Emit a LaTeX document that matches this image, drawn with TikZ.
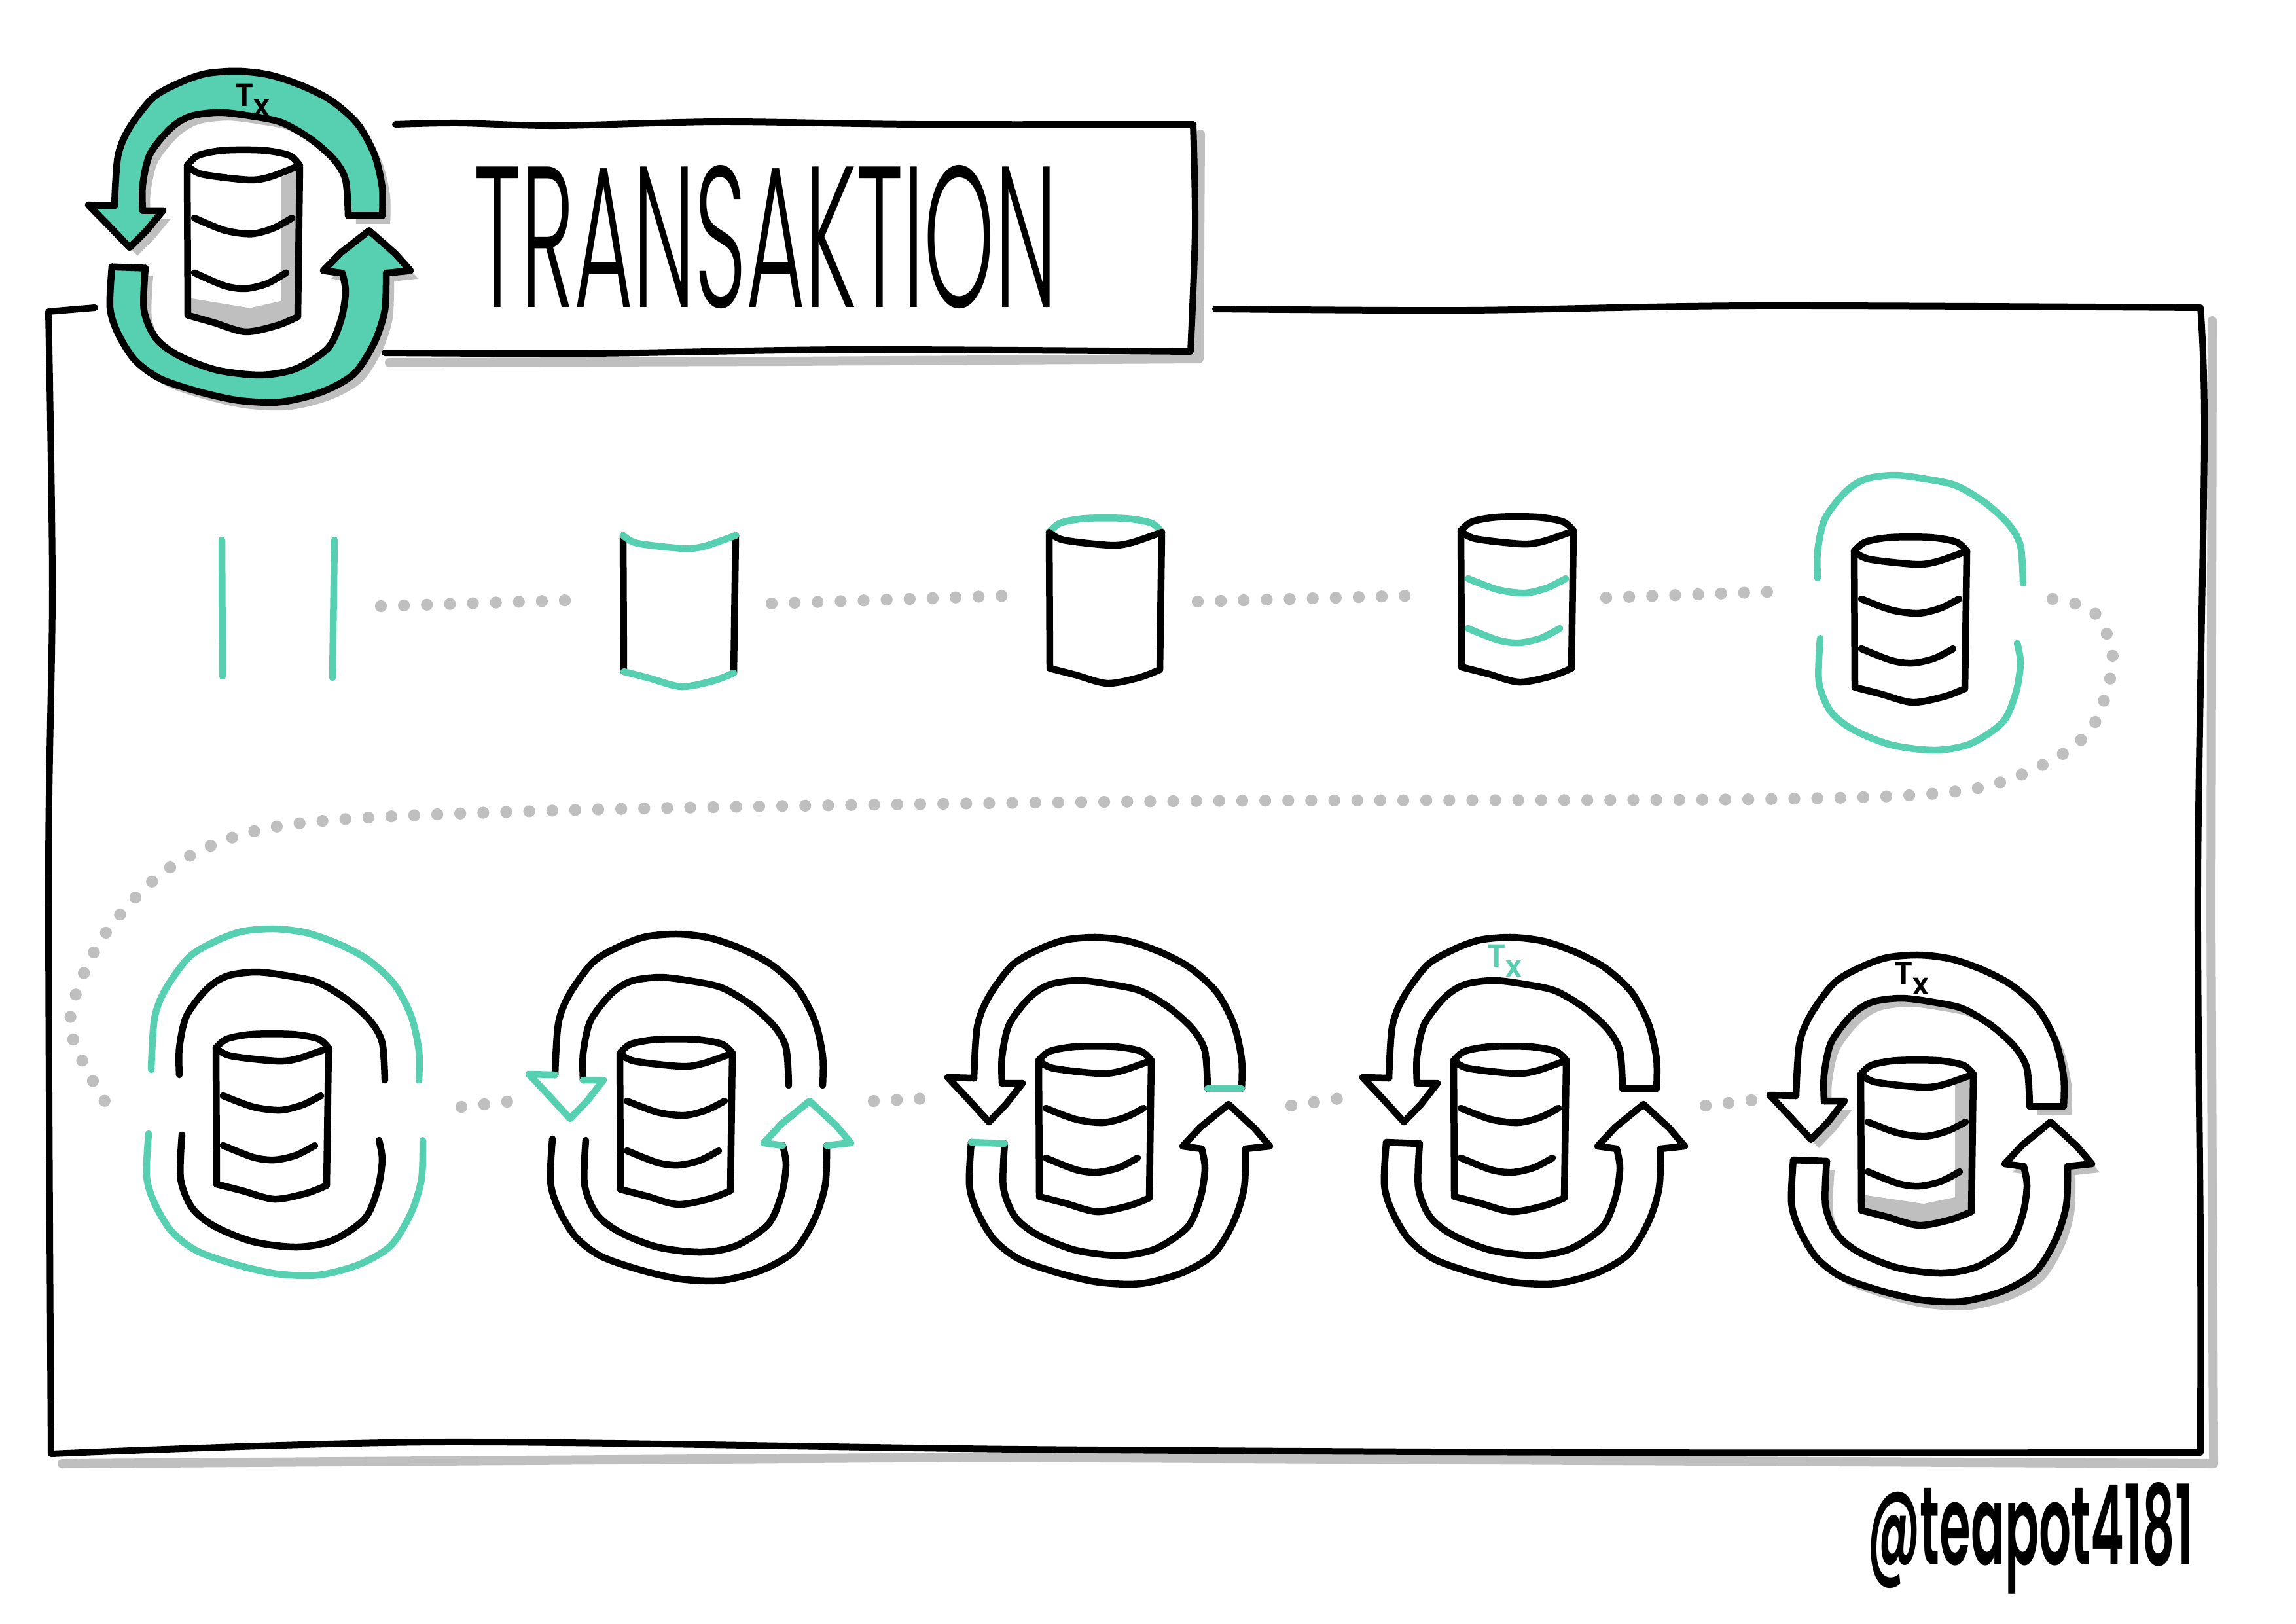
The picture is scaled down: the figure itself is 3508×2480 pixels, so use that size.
\documentclass[tikz,border=0pt]{standalone}
\usepackage{fontspec}
\setmainfont{Poppins}
\newfontfamily\titlefont{Poppins Light}
\newfontfamily\handfont{Poppins SemiBold}
\definecolor{txgreen}{HTML}{57CFB1}
\definecolor{shadowgrey}{HTML}{BFBFBF}
\newcommand{\txmark}{T\raisebox{-.3em}{\fontsize{13}{13}\selectfont x}}
% ring pieces, relative to the centre of the cylinder
\newcommand{\uparcouter}{plot[smooth] coordinates {(224,-53) (224,-98) (212,-151) (186,-200) (146,-237) (101,-261) (52,-278) (3,-284) (-46,-280) (-87,-265) (-127,-241) (-163,-192) (-180,-147) (-185,-69)}}
\newcommand{\upheadline}{-- (-225,-70) -- (-194,-37) -- (-162,-2) -- (-136,-29) -- (-111,-61) -- (-142,-61)}
\newcommand{\uparcinner}{-- plot[smooth] coordinates {(-142,-61) (-142,-102) (-131,-151) (-100,-192) (-69,-212) (-24,-218) (25,-212) (70,-202) (114,-176) (150,-143) (168,-110) (172,-53)}}
\newcommand{\lowarcinner}{plot[smooth] coordinates {(-138,31) (-140,98) (-122,143) (-87,171) (-29,194) (38,202) (92,192) (141,159) (161,114) (168,69) (163,39)}}
\newcommand{\lowheadline}{-- (134,35) -- (161,6) -- (204,-29) -- (244,8) -- (267,35) -- (230,39)}
\newcommand{\lowarcouter}{-- plot[smooth] coordinates {(230,39) (228,98) (212,150) (181,200) (132,229) (70,245) (7,243) (-55,229) (-115,208) (-154,178) (-180,135) (-192,94) (-189,29)}}
\tikzset{
  inkline/.style={line width=10.5*0.2845pt,line cap=round,line join=round},
  frameline/.style={inkline,line width=10*0.2845pt,black},
  shadowline/.style={inkline,line width=14*0.2845pt,shadowgrey},
  dotline/.style={line width=5.2pt,line cap=round,shadowgrey,dash pattern=on 0pt off 10pt},
  txlabel/.style={font=\handfont\fontsize{14}{14}\selectfont,inner sep=0pt},
  pics/dbcyl/.style n args={5}{code={
    \path[inkline,draw=#1] (-86,-102) -- (-85,106);
    \path[inkline,draw=#1] (86,-102) -- (83,108);
    \path[inkline,draw=#2] plot[smooth] coordinates {(-86,-102) (-69,-116) (-30,-123) (30,-123) (70,-116) (86,-102)};
    \path[inkline,draw=#3] plot[smooth] coordinates {(-86,-102) (-64,-90) (7,-82) (40,-86) (86,-102)};
    \path[inkline,draw=#4] plot[smooth] coordinates {(-85,106) (-46,116) (3,129) (52,120) (83,108)};
    \path[inkline,draw=#5] plot[smooth] coordinates {(-75,-29) (-29,-12) (12,-7) (46,-15) (74,-29)};
    \path[inkline,draw=#5] plot[smooth] coordinates {(-75,47) (-29,65) (3,69) (36,62) (65,47)};
  }},
  pics/dbshade/.style={code={
    \fill[shadowgrey] (58,-86) -- (84,-96) -- (81,108) -- (3,129) -- (-85,106) -- (-84,82) -- (10,96) -- (58,86) -- cycle;
  }},
  pics/ringarrows/.style n args={5}{code={
    \path[fill=#5] \uparcouter \upheadline \uparcinner -- cycle;
    \path[fill=#5] \lowarcinner \lowheadline \lowarcouter -- cycle;
    \path[inkline,draw=#1] \uparcouter;
    \path[inkline,draw=#1] (230,39) \lowarcouter;
    \path[inkline,draw=#2] (-142,-61) \uparcinner;
    \path[inkline,draw=#2] \lowarcinner;
    \path[inkline,draw=#3] (-185,-69) \upheadline;
    \path[inkline,draw=#3] (163,39) \lowheadline;
    \path[inkline,draw=#4] (172,-53) -- (224,-53);
    \path[inkline,draw=#4] (-189,29) -- (-138,31);
  }},
  pics/ringshadow/.style={code={
    \fill[shadowgrey,shift={(12,13)}] \uparcouter \upheadline \uparcinner -- cycle;
    \fill[shadowgrey,shift={(12,13)}] \lowarcinner \lowheadline \lowarcouter -- cycle;
  }},
}

\begin{document}
\begin{tikzpicture}[x=0.1mm,y=-0.1mm]
    \useasboundingbox (0,0) rectangle (3508,2480);
    \fill[white] (0,0) rectangle (3508,2480);

    % frame and title box
    \draw[shadowline] (3380,490) -- (3378,1400) -- (3382,2236) -- (1500,2226) -- (95,2236);
    \draw[shadowline] (1834,205) -- (1832,548) -- (1200,552) -- (595,554);
    \draw[frameline] plot[smooth] coordinates {(145,470) (74,476)} -- plot[smooth] coordinates {(74,476) (80,900) (74,1340) (78,2221)} -- plot[smooth] coordinates {(78,2221) (670,2203) (1560,2214) (2460,2219) (3362,2219)} -- plot[smooth] coordinates {(3362,2219) (3362,1900) (3358,1340) (3368,670) (3362,470)} -- plot[smooth] coordinates {(3362,470) (2680,467) (2240,474) (1857,472)};
    \draw[frameline] plot[smooth] coordinates {(604,190) (700,188) (850,192) (1100,186) (1400,190) (1823,190)} -- plot[smooth] coordinates {(1823,190) (1826,350) (1819,537)} -- plot[smooth] coordinates {(1819,537) (1300,534) (900,540) (588,539)};

    % title icon
    \pic (ringhead) at (360,380) [yscale=.955] {ringshadow};
    \pic (ringicon) at (360,380) [yscale=.955] {ringarrows={black}{black}{black}{black}{txgreen}};
    \pic (dbheadshade) at (372,365) [yscale=1.1] {dbshade};
    \pic (dbhead) at (372,365) [yscale=1.1] {dbcyl={black}{black}{black}{black}{black}};
    \node[txlabel] (txhead) at (386,153) {\txmark};

    \node[inner sep=0pt] (title) at (1170,362) {\resizebox{89mm}{21.7mm}{\titlefont TRANSAKTION}};

    % first row
    \pic (db1) at (425,927) {dbcyl={txgreen}{none}{none}{none}{none}};
    \pic (db2) at (1038,920) {dbcyl={black}{none}{txgreen}{txgreen}{none}};
    \pic (db3) at (1689,915) {dbcyl={black}{txgreen}{black}{black}{none}};
    \pic (db4) at (2318,913) {dbcyl={black}{black}{black}{black}{txgreen}};
    \pic (db5) at (2919,944) {dbcyl={black}{black}{black}{black}{black}};
    \pic (ring5) at (2919,944) {ringarrows={none}{txgreen}{none}{none}{none}};

    % second row
    \pic (db6) at (416,1703) {dbcyl={black}{black}{black}{black}{black}};
    \pic (ring6) at (416,1703) {ringarrows={txgreen}{black}{none}{none}{none}};
    \pic (db7) at (1033,1711) {dbcyl={black}{black}{black}{black}{black}};
    \pic (ring7) at (1033,1711) {ringarrows={black}{black}{txgreen}{none}{none}};
    \pic (db8) at (1673,1722) {dbcyl={black}{black}{black}{black}{black}};
    \pic (ring8) at (1673,1716) {ringarrows={black}{black}{black}{txgreen}{none}};
    \pic (db9) at (2307,1722) {dbcyl={black}{black}{black}{black}{black}};
    \pic (ring9) at (2307,1716) {ringarrows={black}{black}{black}{black}{none}};
    \node[txlabel,txgreen] (tx9) at (2299,1468) {\txmark};
    \pic (ringback10) at (2929,1743) {ringshadow};
    \pic (ring10) at (2929,1743) {ringarrows={black}{black}{black}{black}{white}};
    \pic (dbshade10) at (2929,1743) {dbshade};
    \pic (db10) at (2929,1743) {dbcyl={black}{black}{black}{black}{black}};
    \node[txlabel] (tx10) at (2921,1495) {\txmark};

    % dotted links
    \coordinate (link1a) at (582,926);
    \coordinate (link1b) at (868,917);
    \coordinate (link2a) at (1179,922);
    \coordinate (link2b) at (1539,910);
    \coordinate (link3a) at (1830,919);
    \coordinate (link3b) at (2154,910);
    \coordinate (link4a) at (2454,913);
    \coordinate (link4b) at (2707,904);
    \coordinate (link6a) at (705,1691);
    \coordinate (link6b) at (783,1682);
    \coordinate (link7a) at (1335,1682);
    \coordinate (link7b) at (1416,1678);
    \coordinate (link8a) at (1973,1689);
    \coordinate (link8b) at (2047,1678);
    \coordinate (link9a) at (2606,1689);
    \coordinate (link9b) at (2684,1680);
    \draw[dotline] (link1a) -- (link1b);
    \draw[dotline] (link2a) -- (link2b);
    \draw[dotline] (link3a) -- (link3b);
    \draw[dotline] (link4a) -- (link4b);
    \draw[dotline] plot[smooth] coordinates {(3136,915) (3199,935) (3228,1007) (3199,1107) (3132,1163) (2998,1208) (2684,1221) (1790,1224) (895,1237) (447,1259) (268,1320) (157,1432) (107,1566) (165,1690)};
    \draw[dotline] (link6a) -- (link6b);
    \draw[dotline] (link7a) -- (link7b);
    \draw[dotline] (link8a) -- (link8b);
    \draw[dotline] (link9a) -- (link9b);

    \node[inner sep=0pt] (credit) at (3102,2350) {\resizebox{49.8mm}{12.6mm}{\handfont @teapot4181}};
  \end{tikzpicture}
\end{document}
